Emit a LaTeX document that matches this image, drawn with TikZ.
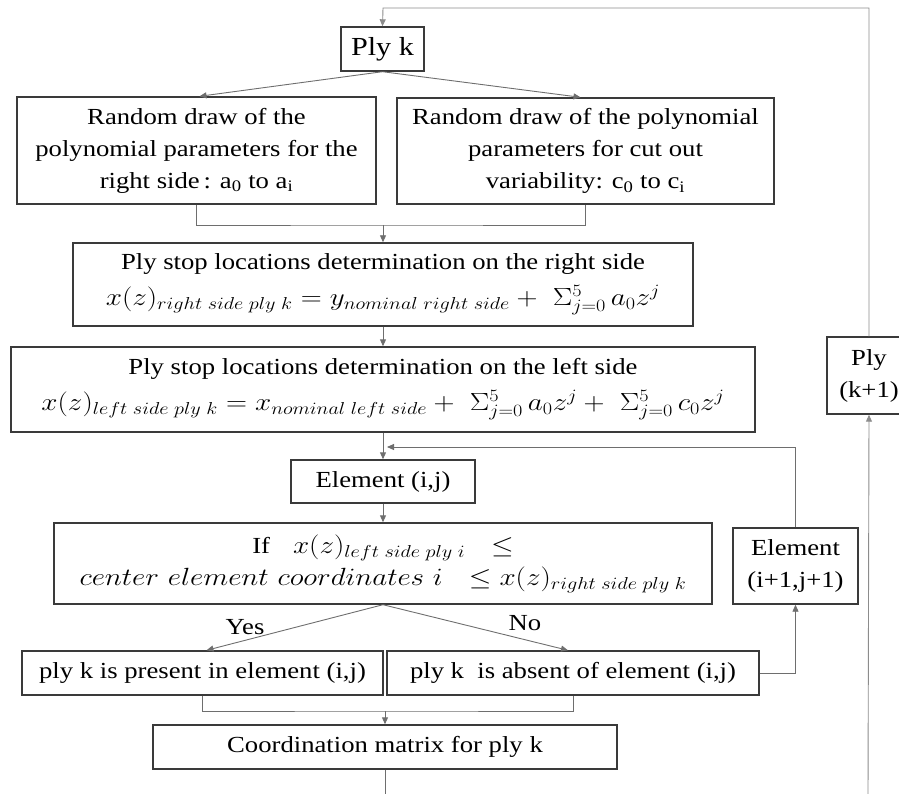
\documentclass[tikz,border=0pt]{standalone}
\usepackage{fontspec}
\usepackage{graphicx}
\setmainfont[FakeStretch=1.16]{Liberation Serif}
\usetikzlibrary{arrows.meta,calc}
\definecolor{boxc}{HTML}{3A3A3A}
\definecolor{linec}{HTML}{6E6E6E}
\definecolor{loopc}{HTML}{8C8C8C}
\newcommand{\eqn}[1]{\scalebox{1.17}[1]{\fontsize{26}{32}\selectfont$#1$}}
\newcommand{\smm}[1]{\Sigma_{j=0}^{5}\,#1}
\begin{document}
\begin{tikzpicture}[x=1pt,y=-1pt,
  every node/.style={font=\fontsize{23}{32}\selectfont},
  bx/.style={draw=boxc,line width=1.4pt,inner sep=0pt,align=center},
  conn/.style={draw=linec,line width=0.9pt},
  arr/.style={conn,-{Triangle[length=7pt,width=6pt]}},
  loopl/.style={draw=loopc,line width=0.9pt},
  lbl/.style={inner sep=0pt}]
\useasboundingbox (0,0) rectangle (899,794);
\clip (0,0) rectangle (899,794);
% nodes
\node[bx,minimum width=83pt,minimum height=44pt,font=\fontsize{26}{32}\selectfont] (plyk) at (382.5,49) {Ply k};
\node[bx,minimum width=359pt,minimum height=107pt] (A) at (196.5,150.5)
  {Random draw of the\\polynomial parameters for the\\right side\,: a\textsubscript{0} to a\textsubscript{i}};
\node[bx,minimum width=377pt,minimum height=106pt] (B) at (585.5,151)
  {Random draw of the polynomial\\parameters for cut out\\variability: c\textsubscript{0} to c\textsubscript{i}};
\node[bx,minimum width=620pt,minimum height=83pt] (C) at (383,284.5)
  {Ply stop locations determination on the right side\\[4pt]
   \eqn{x(z)_{right\;side\;ply\;k} = y_{nominal\;right\;side} +\ \smm{a_0 z^j}}};
\node[bx,minimum width=744pt,minimum height=85pt] (D) at (383,389.5)
  {Ply stop locations determination on the left side\\[4pt]
   \eqn{x(z)_{left\;side\;ply\;k} = x_{nominal\;left\;side} +\ \smm{a_0 z^j} +\ \smm{c_0 z^j}}};
\node[bx,minimum width=184pt,minimum height=43pt] (E) at (383,481.5) {Element (i,j)};
\node[bx,minimum width=658pt,minimum height=81pt] (If) at (383,563.5)
  {If\quad\eqn{x(z)_{left\;side\;ply\;i}\ \ \le}\\
   \eqn{center\ element\ coordinates\ i\ \ \le x(z)_{right\;side\;ply\;k}}};
\node[bx,minimum width=125pt,minimum height=76pt] (E2) at (795.5,566) {Element\\(i+1,j+1)};
\node[bx,minimum width=84pt,minimum height=77pt] (P2) at (869,375.5) {Ply\\(k+1)};
\node[bx,minimum width=361pt,minimum height=44pt] (Y) at (202.5,673) {ply k is present in element (i,j)};
\node[bx,minimum width=372pt,minimum height=44pt] (N) at (573,673) {ply k\ \ is absent of element (i,j)};
\node[bx,minimum width=464pt,minimum height=44pt] (M) at (385,747) {Coordination matrix for ply k};
% coordinates
\coordinate (top) at (383,8);
\coordinate (m1) at (383,225);
\coordinate (l1) at (387,447);
\coordinate (m2) at (385,711);
\coordinate (bot1) at (385,794);
\coordinate (bot2) at (868,794);
% connectors
\draw[loopl,-{Triangle[length=7pt,width=6pt]}] (P2.north) |- (top) -- (plyk.north);
\draw[arr] (plyk.south) -- ($(A.north)+(3,0)$);
\draw[arr] (plyk.south) -- ($(B.north)+(-5,0)$);
\draw[conn] (A.south) |- (m1) -| (B.south);
\draw[arr] (m1) -- (C.north);
\draw[arr] (C.south) -- (D.north);
\draw[arr] (D.south) -- (E.north);
\draw[conn,-{Triangle[length=7pt,width=6pt]}] (E2.north) |- (l1);
\draw[arr] (E.south) -- (If.north);
\draw[arr] (If.south) -- ($(Y.north)+(4,0)$);
\draw[arr] (If.south) -- ($(N.north)+(-5,0)$);
\node[lbl] (yes) at (245,627) {Yes};
\node[lbl] (no) at (525,623) {No};
\draw[arr] (N.east) -| (E2.south);
\draw[conn] (Y.south) |- (m2) -| (N.south);
\draw[arr] (m2) -- (M.north);
\draw[conn] (M.south) -- (bot1);
\draw[loopl,-{Triangle[length=7pt,width=6pt]}] (bot2) -- (P2.south);
\end{tikzpicture}
\end{document}
